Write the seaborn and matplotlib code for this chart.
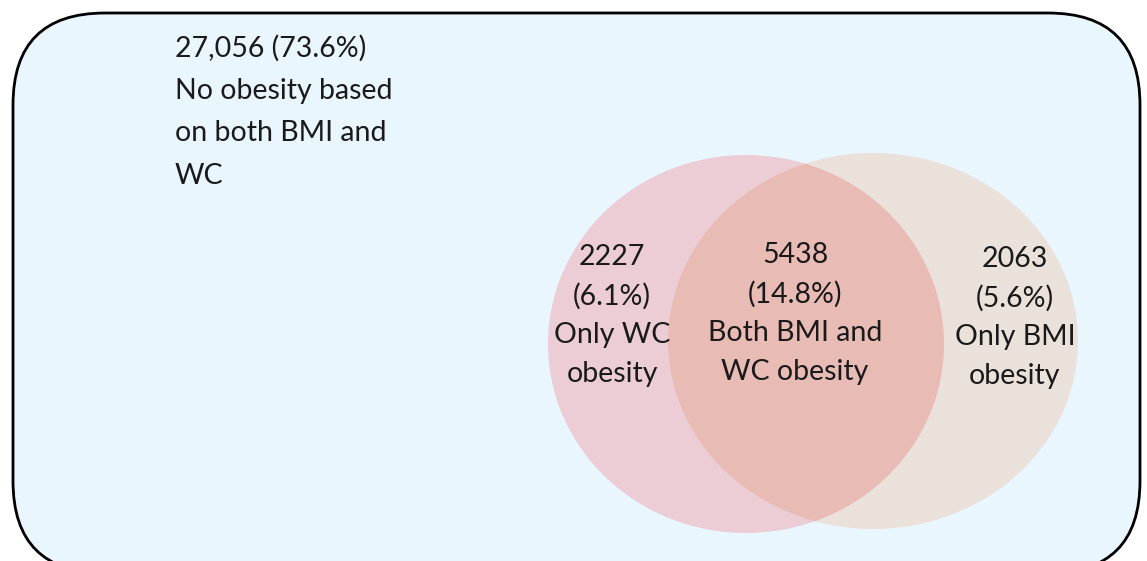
import numpy as np
import pandas as pd
import matplotlib
matplotlib.use('Agg')
import matplotlib.pyplot as plt
from matplotlib.patches import Ellipse, FancyBboxPatch
import seaborn as sns

sns.set_theme(style='white')
plt.rcParams['font.family'] = ['Lato', 'DejaVu Sans']

# Venn regions: neither, only WC, both, only BMI
regions = ['none', 'only_wc', 'both', 'only_bmi']
counts = ['27,056', '2227', '5438', '2063']
percents = ['73.6%', '6.1%', '14.8%', '5.6%']
descriptions = [
    ['No obesity based', 'on both BMI and', 'WC'],
    ['Only WC', 'obesity'],
    ['Both BMI and', 'WC obesity'],
    ['Only BMI', 'obesity'],
]

fig = plt.figure(figsize=(11.47, 5.61), dpi=100)
ax = fig.add_axes([0, 0, 1, 1])
ax.set_xlim(0, 1147)
ax.set_ylim(561, 0)
ax.axis('off')

# outer rounded box
box = FancyBboxPatch((13, 13), 1127, 560,
                     boxstyle='round,pad=0,rounding_size=92',
                     facecolor='#EAF6FE', edgecolor='black', linewidth=2.0)
ax.add_patch(box)

# the two sets
wc = Ellipse((746, 344), 396, 378, facecolor='#ECCDD5', edgecolor='none')
bmi = Ellipse((873, 341), 410, 376, facecolor='#E9E1DA', edgecolor='none')
ax.add_patch(wc)
ax.add_patch(bmi)
overlap = Ellipse((873, 341), 410, 376, facecolor='#E9BBB5', edgecolor='none')
ax.add_patch(overlap)
overlap.set_clip_path(wc)

txt = dict(fontsize=20.5, color='#1a1a1a')

# neither
lines = [f'{counts[0]} ({percents[0]})'] + descriptions[0]
for i, s in enumerate(lines):
    ax.text(175, 48 + i * 42.5, s, ha='left', va='center', **txt)

# inside the circles
centres = {'only_wc': (612, 257), 'both': (795, 255), 'only_bmi': (1015, 259)}
for k, name in enumerate(regions[1:], start=1):
    cx, cy = centres[name]
    lines = [counts[k], f'({percents[k]})'] + descriptions[k]
    for i, s in enumerate(lines):
        ax.text(cx, cy + i * 39, s, ha='center', va='center', **txt)

fig.savefig('out.png', dpi=100)
